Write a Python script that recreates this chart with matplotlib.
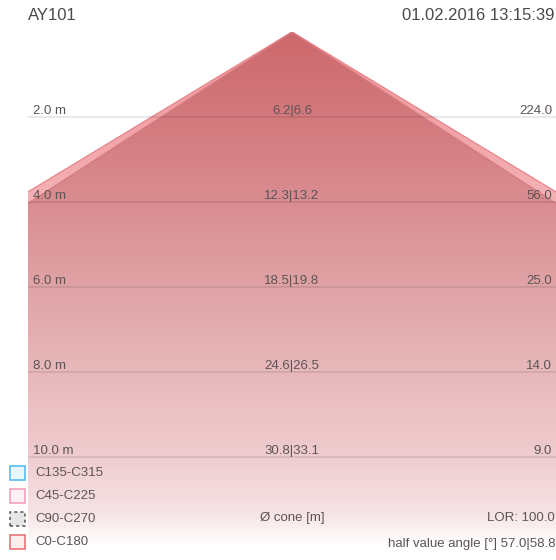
import numpy as np
import matplotlib
matplotlib.use("Agg")
import matplotlib.pyplot as plt
from matplotlib.patches import Polygon, Rectangle
import matplotlib.transforms as mtransforms

plt.rcParams['font.family'] = ['Liberation Sans', 'DejaVu Sans']

# ---- data -------------------------------------------------------------
luminaire = "AY101"
timestamp = "01.02.2016 13:15:39"
distances = [2.0, 4.0, 6.0, 8.0, 10.0]          # m
cone_c0 = [6.2, 12.3, 18.5, 24.6, 30.8]         # cone diameter C0-C180 [m]
cone_c90 = [6.6, 13.2, 19.8, 26.5, 33.1]        # cone diameter C90-C270 [m]
illuminance = [224.0, 56.0, 25.0, 14.0, 9.0]    # lx
half_angles = [57.0, 58.8]                      # deg
lor = 100.0
planes = ["C135-C315", "C45-C225", "C90-C270", "C0-C180"]

# ---- figure -----------------------------------------------------------
W, H = 556, 560
fig = plt.figure(figsize=(W / 100, H / 100), dpi=100)
fig.patch.set_facecolor("white")

px_per_m = 42.5
ax_left, ax_right, ax_top, ax_bottom = 28, 556, 32, 545
ax = fig.add_axes([ax_left / W, 1 - ax_bottom / H,
                   (ax_right - ax_left) / W, (ax_bottom - ax_top) / H])
half_w = (ax_right - ax_left) / px_per_m / 2
depth = (ax_bottom - ax_top) / px_per_m
ax.set_xlim(-half_w, half_w)
ax.set_ylim(depth, 0)
ax.axis("off")


def gradient_image(stops, n=400):
    ys = np.linspace(0, depth, n)
    d = np.array([s[0] for s in stops])
    cols = np.array([s[1] for s in stops], dtype=float) / 255.0
    rgba = np.ones((n, 1, 4))
    for k in range(4):
        rgba[:, 0, k] = np.interp(ys, d, cols[:, k])
    return rgba


def cone_polygon(angle):
    t = np.tan(np.radians(angle))
    return [(0, 0), (-depth * t, depth), (depth * t, depth)]


outer_stops = [
    (0.0, (238, 148, 152, 255)),
    (2.0, (241, 162, 166, 255)),
    (4.0, (244, 178, 182, 255)),
    (8.0, (247, 203, 206, 255)),
    (12.1, (255, 250, 250, 255)),
]
inner_stops = [
    (0.0, (205, 104, 108, 255)),
    (2.0, (211, 121, 125, 255)),
    (4.0, (217, 141, 145, 255)),
    (6.0, (224, 163, 166, 255)),
    (8.0, (231, 184, 187, 255)),
    (10.0, (239, 204, 207, 255)),
    (11.3, (246, 226, 228, 255)),
    (12.1, (255, 255, 255, 255)),
]

for angle, stops, edge in [(half_angles[1], outer_stops, "#e8868c"),
                           (half_angles[0], inner_stops, "#d67b80")]:
    poly = Polygon(cone_polygon(angle), closed=True, facecolor="none",
                   edgecolor="none")
    ax.add_patch(poly)
    img = ax.imshow(gradient_image(stops), extent=[-half_w, half_w, depth, 0],
                    aspect="auto", interpolation="bilinear", zorder=1)
    img.set_clip_path(poly)
    t = np.tan(np.radians(angle))
    ax.plot([-depth * t, 0, depth * t], [depth, 0, depth], color=edge,
            lw=0.9, zorder=2, solid_joinstyle="round")

ax.set_xlim(-half_w, half_w)
ax.set_ylim(depth, 0)

# distance lines and labels
blend = mtransforms.blended_transform_factory(ax.transAxes, ax.transData)
txt_color = "#5c5456"
for d, c0, c90, e in zip(distances, cone_c0, cone_c90, illuminance):
    ax.axhline(d, color=(0, 0, 0, 0.10), lw=1.2, zorder=3)
    ax.text(5 / 528, d - 0.07, f"{d:.1f} m", transform=blend, ha="left",
            va="baseline", fontsize=9.5, color=txt_color, zorder=4)
    ax.text(0.5, d - 0.07, f"{c0:.1f}|{c90:.1f}", transform=blend,
            ha="center", va="baseline", fontsize=9.5, color=txt_color, zorder=4)
    ax.text(524 / 528, d - 0.07, f"{e:.1f}", transform=blend, ha="right",
            va="baseline", fontsize=9.5, color=txt_color, zorder=4)

# header
fig.text(28 / W, 1 - 15 / H, luminaire, ha="left", va="center",
         fontsize=12, color="#4a4a4a")
fig.text(554 / W, 1 - 15 / H, timestamp, ha="right", va="center",
         fontsize=12, color="#4a4a4a")

# legend of C-planes
legend_style = [
    ("#4cb8e8", "#eaf6fc", "solid"),
    ("#f09ab8", "#fdf0f4", "solid"),
    ("#555555", "#e6e6e6", (0, (2, 2))),
    ("#e86a6e", "#fdeeee", "solid"),
]
legend_y = [473, 496, 519, 542]
for name, (ec, fc, ls), y in zip(planes, legend_style, legend_y):
    fig.patches.append(Rectangle((10 / W, 1 - (y + 7) / H), 15 / W, 14 / H,
                                 transform=fig.transFigure, facecolor=fc,
                                 edgecolor=ec, lw=1.1, linestyle=ls))
    fig.text(35 / W, 1 - y / H, name, ha="left", va="center",
             fontsize=9.5, color=txt_color)

# footer
fig.text(292 / W, 1 - 518 / H, "Ø cone [m]", ha="center", va="center",
         fontsize=9.5, color=txt_color)
fig.text(555 / W, 1 - 518 / H, f"LOR: {lor:.1f}", ha="right", va="center",
         fontsize=9.5, color=txt_color)
fig.text(555 / W, 1 - 544 / H,
         f"half value angle [°] {half_angles[0]:.1f}|{half_angles[1]:.1f}",
         ha="right", va="center", fontsize=9.5, color=txt_color)

fig.savefig("out.png", dpi=100, facecolor="white")
